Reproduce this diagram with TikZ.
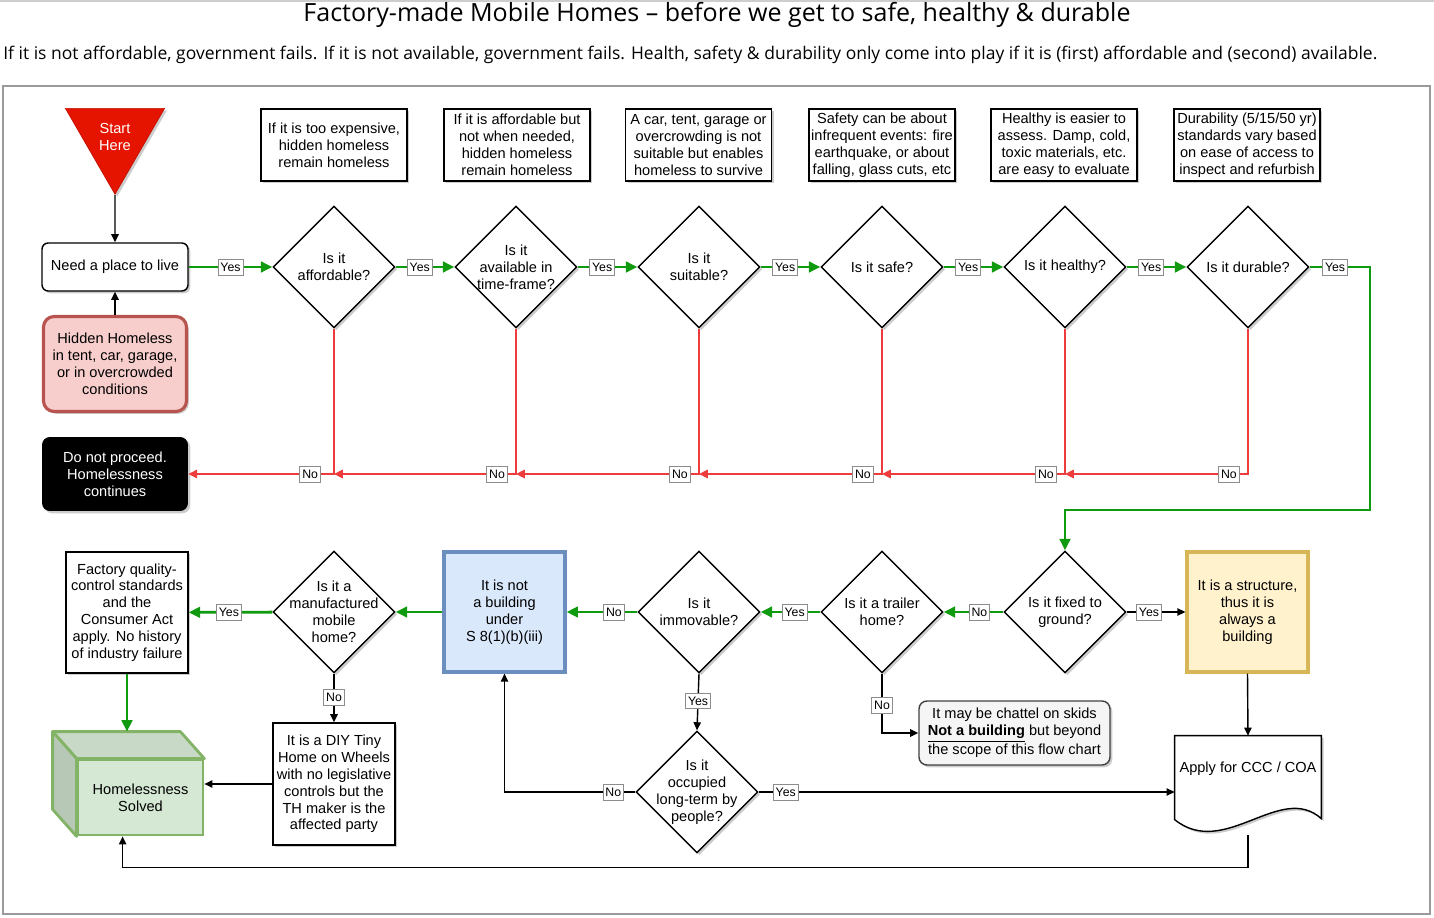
\documentclass[tikz,border=0pt]{standalone}
\usepackage{fontspec}
\setmainfont{Liberation Sans}
\newfontfamily\headfont{Open Sans}
\usetikzlibrary{arrows.meta, positioning, calc, shapes.geometric, shadows}
\definecolor{StartRed}{HTML}{E51400}
\definecolor{PinkFill}{HTML}{F8CECC}
\definecolor{PinkLine}{HTML}{B85450}
\definecolor{BlueFill}{HTML}{DAE8FC}
\definecolor{BlueLine}{HTML}{6C8EBF}
\definecolor{YellowFill}{HTML}{FFF2CC}
\definecolor{YellowLine}{HTML}{D6B656}
\definecolor{GreenFill}{HTML}{D5E8D4}
\definecolor{GreenLine}{HTML}{82B366}
\definecolor{GrayFill}{HTML}{F5F5F5}
\definecolor{YesGreen}{HTML}{109A10}
\definecolor{NoRed}{HTML}{EE3B3B}
\definecolor{FrameGray}{HTML}{9A9A9A}
\newcommand{\boxfont}{\fontsize{8.3}{9.6}\selectfont}
\newcommand{\tagfont}{\fontsize{7}{8}\selectfont}
\tikzset{
  boxshadow/.style={drop shadow={shadow xshift=1.3pt, shadow yshift=-1.3pt, opacity=0.2, fill=black}},
  notebox/.style={draw=black, line width=0.8pt, fill=white, align=center, minimum width=2.92cm, minimum height=1.44cm, inner sep=1pt, font=\boxfont, boxshadow},
  termbox/.style={draw=black, line width=0.8pt, rounded corners=3.5pt, fill=white, align=center, minimum width=2.92cm, minimum height=0.96cm, inner sep=1pt, font=\boxfont, boxshadow},
  pinkbox/.style={draw=PinkLine, line width=1.8pt, rounded corners=6pt, fill=PinkFill, align=center, minimum width=2.86cm, minimum height=1.9cm, inner sep=1pt, font=\boxfont, boxshadow},
  blackbox/.style={fill=black, text=white, rounded corners=4.5pt, align=center, minimum width=2.92cm, minimum height=1.48cm, inner sep=1pt, font=\boxfont, boxshadow},
  starttri/.style={regular polygon, regular polygon sides=3, shape border rotate=180, fill=StartRed, draw=StartRed!85!black, minimum size=2.29cm, inner sep=0pt, text=white, align=center, font=\boxfont, boxshadow},
  decision/.style={diamond, aspect=1, draw=black, line width=0.8pt, fill=white, minimum width=2.44cm, minimum height=2.44cm, inner sep=-8pt, align=center, font=\boxfont, boxshadow},
  plainbox/.style={draw=black, line width=0.8pt, fill=white, align=center, minimum width=2.44cm, minimum height=2.42cm, inner sep=1pt, font=\boxfont, boxshadow},
  bluebox/.style={draw=BlueLine, line width=1.8pt, fill=BlueFill, align=center, minimum width=2.42cm, minimum height=2.4cm, inner sep=1pt, font=\boxfont, boxshadow},
  yellowbox/.style={draw=YellowLine, line width=1.8pt, fill=YellowFill, align=center, minimum width=2.42cm, minimum height=2.4cm, inner sep=1pt, font=\boxfont, boxshadow},
  graybox/.style={draw=black!75, line width=0.8pt, rounded corners=4.5pt, fill=GrayFill, align=center, minimum width=3.82cm, minimum height=1.28cm, inner sep=1pt, font=\boxfont, boxshadow},
  cubefront/.style={draw=GreenLine, line width=1.6pt, fill=GreenFill, align=center, minimum width=2.5cm, minimum height=1.5cm, inner sep=1pt, font=\boxfont},
  docbox/.style={align=center, minimum width=2.92cm, minimum height=1.32cm, inner sep=1pt, font=\boxfont},
  tag/.style={draw=black!45, line width=0.4pt, fill=white, text=black, font=\tagfont, inner xsep=1.4pt, inner ysep=1pt, minimum height=9pt},
  arrow/.style={-{Triangle[length=4.6pt, width=4.2pt]}, line width=0.8pt, draw=black},
  greenarrow/.style={-{Triangle[length=6.5pt, width=6pt]}, line width=1.6pt, draw=YesGreen},
  redarrow/.style={-{Triangle[length=5pt, width=4.8pt]}, line width=1pt, draw=NoRed}
}
\begin{document}
\begin{tikzpicture}[x=0.02cm, y=-0.02cm]
\useasboundingbox (0,0) rectangle (1434,918);
\draw[FrameGray!50, line width=0.6pt] (0,1) -- (1434,1);
\node[font=\headfont\fontsize{14.25}{16}\selectfont] (title) at (717,15) {Factory-made Mobile Homes – before we get to safe, healthy \& durable};
\node[font=\headfont\fontsize{9.95}{12}\selectfont, anchor=west, inner sep=0pt] (subtitle) at (3,55) {If it is not affordable, government fails. If it is not available, government fails. Health, safety \& durability only come into play if it is (first) affordable and (second) available.};
\draw[FrameGray, line width=0.6pt] (3,86) rectangle (1430,914);

% left column
\node[starttri] (start) at (115,137) {Start\\Here};
\node[termbox] (need) at (115,267) {Need a place to live};
\node[pinkbox] (hidden) at (115,364) {Hidden Homeless\\in tent, car, garage,\\or in overcrowded\\conditions};
\node[blackbox] (stop) at (115,474) {Do not proceed.\\Homelessness\\continues};

% notes above the questions
\node[notebox] (note1) at (334,145) {If it is too expensive,\\hidden homeless\\remain homeless};
\node[notebox] (note2) at (517,145) {If it is affordable but\\not when needed,\\hidden homeless\\remain homeless};
\node[notebox] (note3) at (698.5,145) {A car, tent, garage or\\overcrowding is not\\suitable but enables\\homeless to survive};
\node[notebox] (note4) at (882,145) {Safety can be about\\infrequent events: fire\\earthquake, or about\\falling, glass cuts, etc};
\node[notebox] (note5) at (1064,145) {Healthy is easier to\\assess. Damp, cold,\\toxic materials, etc.\\are easy to evaluate};
\node[notebox] (note6) at (1247,145) {Durability (5/15/50 yr)\\standards vary based\\on ease of access to\\inspect and refurbish};

% top row of questions
\node[decision] (d1) at (334,267) {Is it\\affordable?};
\node[decision] (d2) at (516,267) {Is it\\available in\\time-frame?};
\node[decision] (d3) at (699,267) {Is it\\suitable?};
\node[decision] (d4) at (882,267) {Is it safe?};
\node[decision] (d5) at (1065,267) {Is it healthy?};
\node[decision] (d6) at (1248,267) {Is it durable?};

% bottom row
\node[decision] (fixed) at (1065,612) {Is it fixed to\\ground?};
\node[yellowbox] (structure) at (1247.5,612) {It is a structure,\\thus it is\\always a\\building};
\node[decision] (trailer) at (882,612) {Is it a trailer\\home?};
\node[decision] (immovable) at (699,612) {Is it\\immovable?};
\node[bluebox] (notbuilding) at (504.5,612) {It is not\\a building\\under\\S 8(1)(b)(iii)};
\node[decision] (manufactured) at (334,612) {Is it a\\manufactured\\mobile\\home?};
\node[plainbox] (factory) at (127,612.5) {Factory quality-\\control standards\\and the\\Consumer Act\\apply. No history\\of industry failure};
\node[graybox] (chattel) at (1014.5,733) {It may be chattel on skids\\\underline{\textbf{Not a building}} but beyond\\the scope of this flow chart};
\node[decision] (occupied) at (697,792) {Is it\\occupied\\long-term by\\people?};
\node[plainbox, minimum height=2.44cm] (diy) at (334,784) {It is a DIY Tiny\\Home on Wheels\\with no legislative\\controls but the\\TH maker is the\\affected party};
\node[docbox] (apply) at (1248,769) {Apply for CCC / COA};
\node[cubefront] (solved) at (140.5,797.5) {Homelessness\\Solved};

% document outline and cube faces
\draw[line width=0.8pt, fill=white, boxshadow] (apply.north west) -- (apply.north east) -- ($(apply.north east)+(0,83)$)
  .. controls ($(apply.north east)+(-41,46)$) and ($(apply.north west)+(50,124)$) .. ($(apply.north west)+(0,84)$) -- cycle;
\node[docbox] at (apply) {Apply for CCC / COA};
\coordinate (solvedtop) at ($(solved.north west)+(-24,-27)$);
\coordinate (applyfoot) at ($(apply.south)+(0,33)$);
\coordinate (solvedfoot) at ($(solved.south west)!0.36!(solved.south east)$);
\draw[draw=GreenLine, line width=1.6pt, fill=GreenFill!94!black, line join=round] (solved.north west) -- (solvedtop) -- ($(solved.north east)+(-24,-27)$) -- (solved.north east) -- cycle;
\draw[draw=GreenLine, line width=1.6pt, fill=GreenFill!86!black, line join=round] (solved.north west) -- (solvedtop) -- ($(solved.south west)+(-24,-27)$) -- (solved.south west) -- cycle;

% connectors
\draw[arrow] (start.south) -- (need.north);
\draw[arrow] (hidden.north) -- (need.south);
\draw[greenarrow] (need) -- node[tag, pos=0.5]{Yes} (d1);
\draw[greenarrow] (d1) -- node[tag, pos=0.41]{Yes} (d2);
\draw[greenarrow] (d2) -- node[tag, pos=0.41]{Yes} (d3);
\draw[greenarrow] (d3) -- node[tag, pos=0.41]{Yes} (d4);
\draw[greenarrow] (d4) -- node[tag, pos=0.41]{Yes} (d5);
\draw[greenarrow] (d5) -- node[tag, pos=0.41]{Yes} (d6);
\coordinate (turn) at (1370,510);
\draw[greenarrow] (d6.east) -| node[tag, pos=0.21]{Yes} (turn) -| (fixed.north);

\draw[redarrow] (d1.south) |- node[tag, pos=0.582]{No} (stop.east);
\draw[redarrow] (d2.south) |- node[tag, pos=0.552]{No} (d1.south |- stop.east);
\draw[redarrow] (d3.south) |- node[tag, pos=0.552]{No} (d2.south |- stop.east);
\draw[redarrow] (d4.south) |- node[tag, pos=0.552]{No} (d3.south |- stop.east);
\draw[redarrow] (d5.south) |- node[tag, pos=0.552]{No} (d4.south |- stop.east);
\draw[redarrow] (d6.south) |- node[tag, pos=0.552]{No} (d5.south |- stop.east);

\draw[arrow] (fixed) -- node[tag, pos=0.38]{Yes} (structure);
\draw[greenarrow] (fixed) -- node[tag, pos=0.4]{No} (trailer);
\draw[greenarrow] (trailer) -- node[tag, pos=0.43]{Yes} (immovable);
\draw[greenarrow] (immovable) -- node[tag, pos=0.33]{No} (notbuilding);
\draw[greenarrow] (notbuilding) -- (manufactured);
\draw[greenarrow] (manufactured) -- node[tag, pos=0.52]{Yes} (factory);
\draw[arrow] (manufactured.south) -- node[tag, pos=0.48]{No} (diy.north);
\draw[arrow] (trailer.south) |- node[tag, pos=0.27]{No} (chattel.west);
\draw[arrow] (immovable.south) -- node[tag, pos=0.48]{Yes} (occupied.north);
\draw[arrow] (occupied.west) -| node[tag, pos=0.084]{No} (notbuilding.south);
\draw[arrow] (occupied.east) -- node[tag, pos=0.065]{Yes} (occupied.east -| apply.west);
\draw[arrow] (structure.south) -- (apply.north);
\draw[arrow] (applyfoot) -- ++(0,32) -| (solvedfoot);
\draw[greenarrow] (factory.south) -- (factory.south |- solvedtop);
\draw[arrow] (diy.west) -- (diy.west -| solved.east);
\end{tikzpicture}
\end{document}
